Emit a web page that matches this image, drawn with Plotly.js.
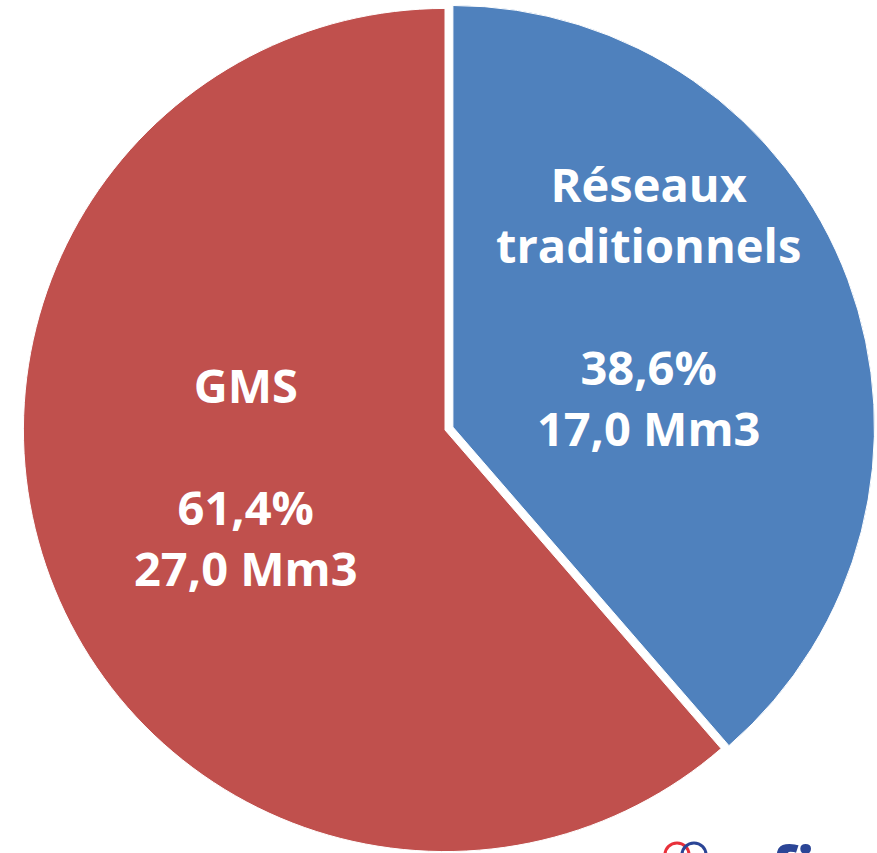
<!DOCTYPE html>
<html>
<head>
<meta charset="utf-8">
<script src="https://cdn.plot.ly/plotly-3.0.1.min.js"></script>
<style>
  html, body { margin: 0; padding: 0; background: white; overflow: hidden; }
  #chart { width: 877px; height: 860px; }
</style>
</head>
<body>
<div id="chart"></div>
<script>
// Volumes by channel, in Mm3
const channels = ['Réseaux<br>traditionnels', 'GMS'];
const volumes = [17.0, 27.0];
const sliceColors = ['#4F81BD', '#C0504D'];
const pulls = [0.02, 0];

const W = 877, H = 860;
const px = x => x / W;
const py = y => 1 - y / H;

// where each slice label block sits (page pixels)
const labelSpots = [[648, 306], [246, 476]];

const total = volumes.reduce((a, b) => a + b, 0);
const fmt = v => v.toFixed(1).replace('.', ',');

const labelAnnotations = channels.map((name, i) => ({
    text: '<b>' + name + '<br><br>' + fmt(volumes[i] / total * 100) + '%<br>' +
          fmt(volumes[i]) + ' Mm3</b>',
    xref: 'paper', yref: 'paper',
    x: px(labelSpots[i][0]), y: py(labelSpots[i][1]),
    xanchor: 'center', yanchor: 'middle',
    showarrow: false,
    font: { family: 'Open Sans, sans-serif', size: 47, color: 'white' }
}));

const plotData = [{
    type: 'pie',
    labels: channels,
    values: volumes,
    sort: false,
    direction: 'clockwise',
    rotation: 0,
    pull: pulls,
    textinfo: 'none',
    marker: {
        colors: sliceColors,
        line: { color: 'white', width: 1 }
    },
    domain: { x: [px(15), px(875)], y: [0, 1] },
    hoverinfo: 'none'
}];

// logo in the bottom right corner, mostly cut off
const logo = {
    text: '<b>fia</b>',
    xref: 'paper', yref: 'paper',
    x: px(768), y: py(822),
    xanchor: 'left', yanchor: 'top',
    showarrow: false,
    font: { family: 'Open Sans, sans-serif', size: 66, color: '#2B4596' }
};

const logoShapes = [
    { type: 'circle', xref: 'paper', yref: 'paper',
      x0: px(665), x1: px(689), y0: py(866), y1: py(843),
      line: { color: '#E8303A', width: 3 } },
    { type: 'circle', xref: 'paper', yref: 'paper',
      x0: px(682), x1: px(706), y0: py(866), y1: py(843),
      line: { color: '#2B4596', width: 3 } }
];

const layout = {
    width: W,
    height: H,
    showlegend: false,
    margin: { l: 0, r: 0, t: 0, b: 0 },
    paper_bgcolor: 'white',
    plot_bgcolor: 'white',
    annotations: labelAnnotations.concat([logo]),
    shapes: logoShapes
};

const config = {
    responsive: false,
    displayModeBar: false,
    staticPlot: true
};

Plotly.newPlot('chart', plotData, layout, config);
</script>
</body>
</html>
